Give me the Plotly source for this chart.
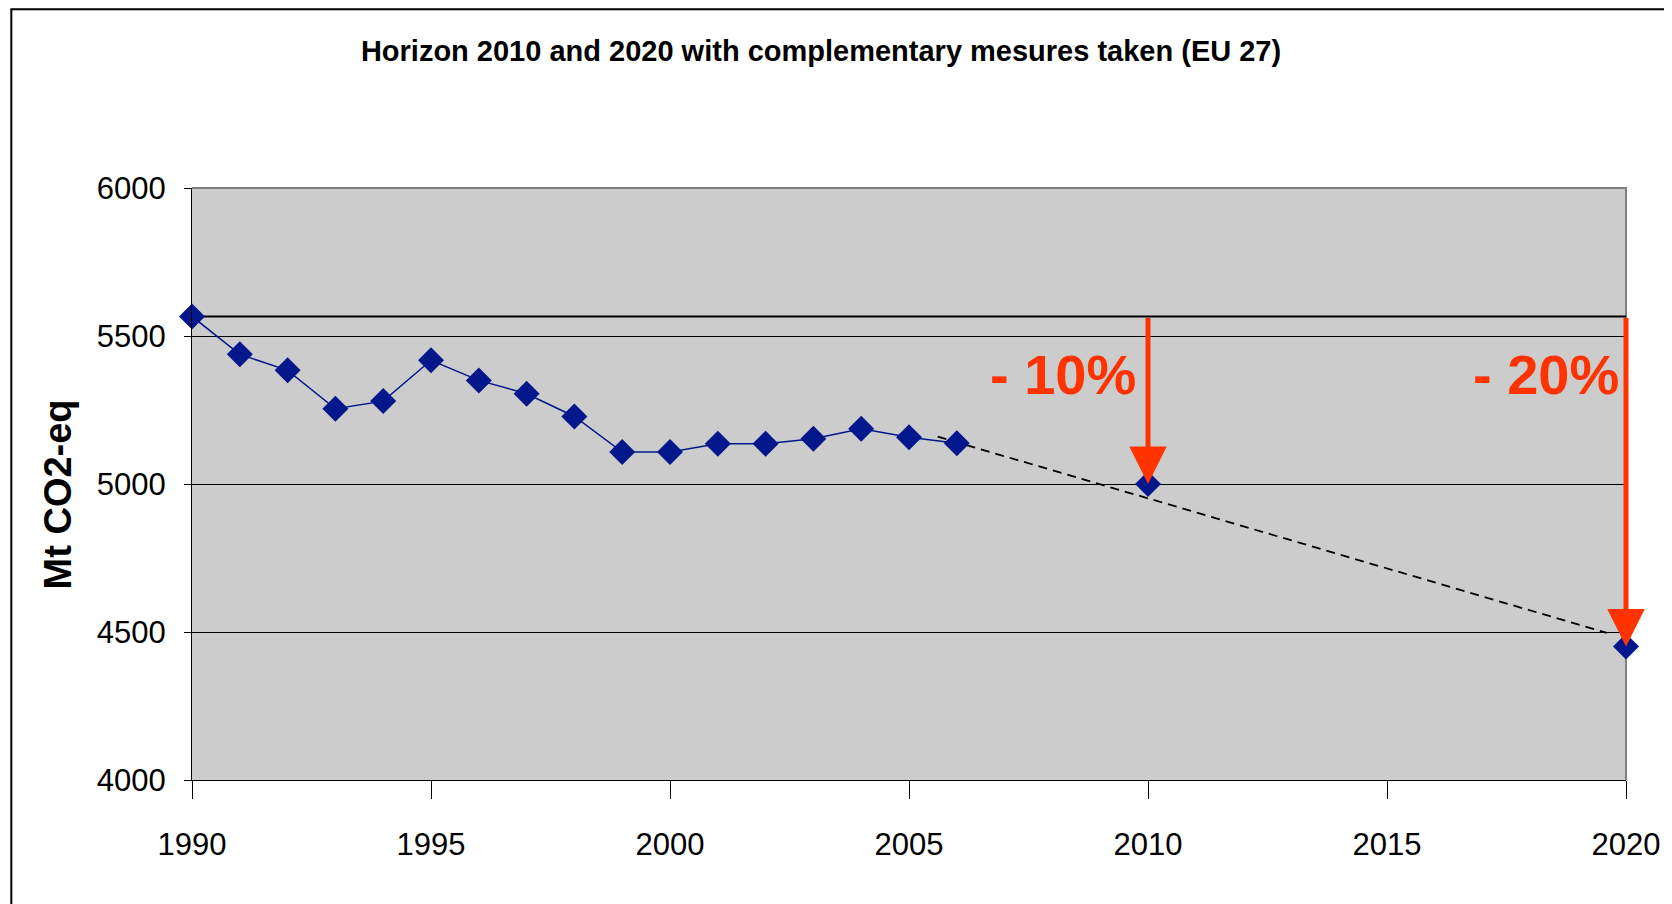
import plotly.graph_objects as go

# 1. 資料 (EU 27 排放, Mt CO2-eq)
years = [1990, 1991, 1992, 1993, 1994, 1995, 1996, 1997, 1998,
         1999, 2000, 2001, 2002, 2003, 2004, 2005, 2006]
emissions = [5566, 5438, 5384, 5254, 5280, 5418, 5350, 5305, 5228,
             5108, 5108, 5136, 5136, 5153, 5187, 5158, 5138]

target_years = [2010, 2020]
target_values = [5000, 4451]
target_labels = ["- 10%", "- 20%"]

trend_years = [2005.6, 2019.6]
trend_values = [5160, 4497]

base_value = emissions[0]

# 文字位置 (右對齊的年份座標)
label_x = [2009.8, 2019.9]
label_y = 5370

FONT = "Liberation Sans Narrow, Arial Narrow, Liberation Sans, Arial, sans-serif"
RED = "#FF3300"
NAVY = "#03178C"

fig = go.Figure()

# 1990 基準線
fig.add_trace(go.Scatter(x=[years[0], target_years[-1]], y=[base_value, base_value],
                         mode="lines", line=dict(color="black", width=2),
                         hoverinfo="skip", cliponaxis=False))

# 趨勢虛線
fig.add_trace(go.Scatter(x=trend_years, y=trend_values, mode="lines",
                         line=dict(color="black", width=1.8, dash="9px,6px"),
                         hoverinfo="skip"))

# 歷史排放
fig.add_trace(go.Scatter(x=years, y=emissions, mode="lines+markers",
                         line=dict(color=NAVY, width=1.5),
                         marker=dict(symbol="diamond", size=20, color=NAVY),
                         cliponaxis=False))

# 目標點
fig.add_trace(go.Scatter(x=target_years, y=target_values, mode="markers",
                         marker=dict(symbol="diamond", size=20, color=NAVY),
                         cliponaxis=False))

# 紅色箭頭與百分比
for yr, val, lab, lx in zip(target_years, target_values, target_labels, label_x):
    fig.add_annotation(x=yr, y=val, ax=yr, ay=base_value, axref="x", ayref="y",
                       xref="x", yref="y", text="", showarrow=True,
                       arrowhead=2, arrowsize=1.5, arrowwidth=5, arrowcolor=RED,
                       standoff=0)
    fig.add_annotation(x=lx, y=label_y, xref="x", yref="y", text=lab,
                       showarrow=False, xanchor="right", yanchor="middle",
                       font=dict(family=FONT, size=56, color=RED, weight="bold"))

# Y 軸標題
fig.add_annotation(x=-0.0932, y=0.483, xref="paper", yref="paper",
                   xanchor="center", yanchor="middle",
                   text="<b>Mt CO2-eq</b>", showarrow=False, textangle=-90,
                   font=dict(family="Liberation Sans, Arial, sans-serif", size=38, color="black"))

# 外框與繪圖區灰框
fig.add_shape(type="path", xref="paper", yref="paper",
              path="M -0.126,-0.25 L -0.126,1.302 L 1.05,1.302",
              line=dict(color="black", width=2))
fig.add_shape(type="path", xref="paper", yref="paper",
              path="M 0,1 L 1,1 L 1,0", line=dict(color="#808080", width=2),
              layer="below")

fig.update_layout(
    width=1664, height=896,
    margin=dict(l=184, r=40, t=180, b=124),
    paper_bgcolor="white", plot_bgcolor="#CCCCCC",
    showlegend=False,
    title=dict(text="<b>Horizon 2010 and 2020 with complementary mesures taken (EU 27)</b>",
               x=0.4886, y=0.952, xanchor="center", yanchor="middle",
               font=dict(family=FONT, size=29, color="black")),
)
fig.update_xaxes(range=[1990, 2020], tick0=1990, dtick=5, showgrid=False,
                 showline=True, linecolor="black", linewidth=1,
                 ticks="outside", ticklen=18, tickcolor="black",
                 ticklabelstandoff=19,
                 tickfont=dict(family=FONT, size=31, color="black"), zeroline=False)
fig.update_yaxes(range=[4000, 6000], dtick=500, showgrid=True, gridcolor="black",
                 gridwidth=1, showline=True, linecolor="black", linewidth=1,
                 ticks="outside", ticklen=7, tickcolor="black",
                 ticklabelstandoff=12,
                 tickfont=dict(family=FONT, size=31, color="black"), zeroline=False)

fig.write_html("out.html")
